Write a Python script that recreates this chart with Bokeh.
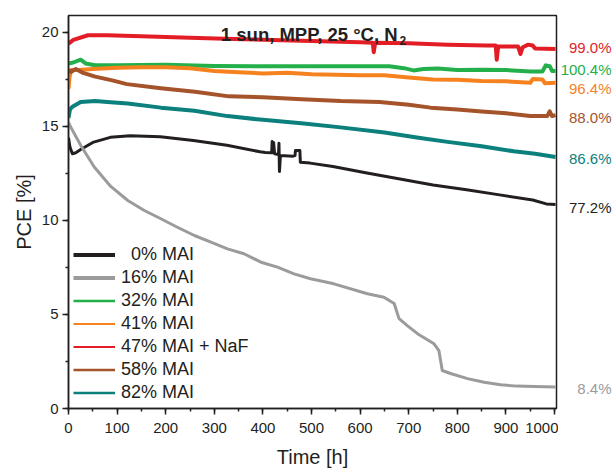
from bokeh.plotting import figure
from bokeh.layouts import row
from bokeh.models import Range1d, SingleIntervalTicker, Label, Legend, LegendItem
from bokeh.core.properties import value
from bokeh.embed import file_html
from bokeh.resources import INLINE

# ---------------- data ----------------
t_0 = [0, 3, 8, 15, 25, 50, 86, 127, 189, 257, 326, 394, 405, 418, 419, 420, 422, 424, 432, 433, 434,
       436, 462, 466, 467, 476, 477, 497, 544, 614, 682, 750, 819, 887, 955, 983, 1002]
v_0 = [14.4, 13.9, 13.55, 13.6, 13.77, 14.15, 14.42, 14.5, 14.45, 14.25, 14.0, 13.65, 13.62, 13.6, 14.2,
       13.6, 14.15, 13.55, 13.5, 14.1, 12.6, 13.45, 13.42, 13.45, 13.72, 13.72, 13.1, 13.05, 12.87, 12.52,
       12.2, 11.89, 11.63, 11.36, 11.09, 10.88, 10.85]

t_16 = [0, 5, 25, 53, 87, 122, 156, 190, 224, 259, 293, 327, 361, 396, 430, 464, 498, 546, 615, 649,
        670, 680, 697, 718, 752, 762, 769, 786, 821, 855, 889, 923, 958, 1002]
v_16 = [15.2, 14.95, 14.0, 12.84, 11.81, 11.06, 10.53, 10.09, 9.64, 9.2, 8.85, 8.49, 8.23, 7.78, 7.52,
        7.16, 6.9, 6.63, 6.1, 5.92, 5.58, 4.78, 4.41, 3.98, 3.44, 3.08, 2.02, 1.86, 1.59, 1.4, 1.26, 1.19,
        1.17, 1.15]

t_32 = [0, 10, 25, 35, 55, 100, 200, 300, 400, 500, 600, 660, 690, 710, 730, 760, 800, 850, 900, 950,
        975, 982, 990, 995, 1002]
v_32 = [18.35, 18.4, 18.55, 18.35, 18.25, 18.25, 18.28, 18.22, 18.2, 18.2, 18.2, 18.2, 18.1, 17.98,
        18.05, 18.08, 18.0, 18.02, 18.0, 17.92, 17.92, 18.25, 18.2, 17.95, 17.95]

t_41 = [0, 2, 5, 20, 50, 100, 150, 200, 250, 300, 350, 400, 450, 500, 550, 600, 650, 700, 750, 800,
        850, 900, 950, 955, 975, 980, 1002]
v_41 = [17.0, 17.6, 18.0, 18.0, 18.05, 18.12, 18.15, 18.15, 18.1, 17.95, 17.88, 17.82, 17.85, 17.78,
        17.75, 17.72, 17.72, 17.6, 17.5, 17.48, 17.42, 17.4, 17.32, 17.52, 17.5, 17.3, 17.32]

t_47 = [0, 10, 40, 80, 150, 250, 340, 420, 500, 600, 626, 628, 631, 700, 780, 860, 879, 881, 884, 925,
        930, 934, 945, 955, 960, 1002]
v_47 = [19.4, 19.6, 19.85, 19.85, 19.8, 19.72, 19.65, 19.6, 19.55, 19.48, 19.45, 18.95, 19.45, 19.42,
        19.35, 19.3, 19.3, 18.55, 19.25, 19.25, 18.85, 19.2, 19.35, 19.3, 19.15, 19.12]

t_58 = [0, 5, 15, 30, 55, 90, 120, 190, 260, 330, 400, 480, 560, 640, 700, 745, 800, 850, 900, 950,
        985, 990, 995, 1002]
v_58 = [18.0, 17.9, 18.05, 17.85, 17.65, 17.45, 17.25, 17.03, 16.85, 16.6, 16.55, 16.45, 16.35, 16.3,
        16.15, 16.0, 15.9, 15.8, 15.7, 15.55, 15.55, 15.8, 15.55, 15.6]

t_82 = [0, 3, 8, 25, 55, 80, 122, 190, 259, 327, 400, 484, 560, 650, 720, 780, 850, 916, 960, 1002]
v_82 = [15.45, 15.9, 16.05, 16.3, 16.35, 16.3, 16.22, 16.0, 15.83, 15.55, 15.35, 15.16, 14.95, 14.68,
        14.4, 14.18, 13.95, 13.68, 13.55, 13.38]

series_names = ["\u20070% MAI", "16% MAI", "32% MAI", "41% MAI", "47% MAI + NaF", "58% MAI", "82% MAI"]
end_labels = ["77.2%", "8.4%", "100.4%", "96.4%", "99.0%", "88.0%", "86.6%"]
end_label_y = [10.7, 1.06, 18.03, 17.02, 19.2, 15.48, 13.3]
title_main = "1 sun, MPP, 25 \u00b0C, N"
title_sub = "2"

colors = ["#231f20", "#9b9b9b", "#23b04a", "#f6821f", "#e31d25", "#a5532a", "#0c807c"]
plot_widths = [3, 3, 4, 4, 4, 4, 4]
legend_widths = [4, 4, 2.5, 2, 2, 2.5, 2.5]

ts = [t_0, t_16, t_32, t_41, t_47, t_58, t_82]
vs = [v_0, v_16, v_32, v_41, v_47, v_58, v_82]

FONT = "Liberation Sans"

yr = Range1d(0, 20.9)
p = figure(frame_width=488, frame_height=393, min_border_left=68, min_border_right=2,
           min_border_top=15, min_border_bottom=60,
           x_range=Range1d(0, 1004), y_range=yr,
           output_backend="svg", toolbar_location=None, tools="")
p.grid.visible = False
p.background_fill_color = "white"
p.border_fill_color = "white"
p.outline_line_color = "#231f20"
p.outline_line_width = 1.5

p.xaxis.ticker = SingleIntervalTicker(interval=100, num_minor_ticks=2)
p.yaxis.ticker = SingleIntervalTicker(interval=5, num_minor_ticks=2)
for ax in (p.xaxis[0], p.yaxis[0]):
    ax.axis_line_width = 1.5
    ax.axis_line_color = "#231f20"
    ax.major_tick_line_color = "#231f20"
    ax.minor_tick_line_color = "#231f20"
    ax.major_tick_line_width = 1.5
    ax.minor_tick_line_width = 1.5
    ax.major_tick_in = 0
    ax.major_tick_out = 6
    ax.minor_tick_in = 0
    ax.minor_tick_out = 3
    ax.major_label_text_font = FONT
    ax.major_label_text_font_size = "15px"
    ax.major_label_text_color = "#231f20"
    ax.axis_label_text_font = FONT
    ax.axis_label_text_font_size = "20px"
    ax.axis_label_text_font_style = "normal"
    ax.axis_label_text_color = "#231f20"
p.xaxis.axis_label = "Time [h]"
p.yaxis.axis_label = "PCE [%]"
p.xaxis.major_label_standoff = 8
p.yaxis.major_label_standoff = 4
p.xaxis.axis_label_standoff = 10
p.yaxis.axis_label_standoff = 4

items = []
for i in range(len(ts)):
    p.line(ts[i], vs[i], line_color=colors[i], line_width=plot_widths[i], line_join="round")
for i in range(len(ts)):
    dummy = p.line(x=[-1000, -999], y=[-1000, -1000], line_color=colors[i], line_width=legend_widths[i])
    items.append(LegendItem(label=series_names[i], renderers=[dummy]))

legend = Legend(items=items, location=(0, -1), margin=0, padding=5, spacing=0,
                glyph_width=42, glyph_height=23, label_height=23, label_standoff=6,
                label_text_font=FONT, label_text_font_size="18px", label_text_color="#231f20",
                border_line_alpha=0, background_fill_alpha=0)
p.add_layout(legend, "center")

p.add_layout(Label(x=677, y=19.89, text=title_main, text_align="right", text_baseline="alphabetic",
                   text_font=FONT, text_font_size="18.5px", text_font_style="bold", text_color="#231f20"))
p.add_layout(Label(x=681, y=19.57, text=title_sub, text_align="left", text_baseline="alphabetic",
                   text_font=FONT, text_font_size="12px", text_font_style="bold", text_color="#231f20"))

# side panel for end-of-test labels
p2 = figure(frame_width=55, frame_height=393, min_border_left=0, min_border_right=0,
            min_border_top=15, min_border_bottom=60,
            x_range=Range1d(0, 55), y_range=yr, x_axis_location=None, y_axis_location=None,
            output_backend="svg", toolbar_location=None, tools="")
p2.grid.visible = False
p2.outline_line_color = None
p2.text(x=[53] * len(end_labels), y=end_label_y, text=end_labels, text_color=colors,
        text_align="right", text_baseline="middle", text_font=value(FONT), text_font_size="15px")

layout = row(p, p2)
open("out.html", "w").write(file_html(layout, INLINE))
